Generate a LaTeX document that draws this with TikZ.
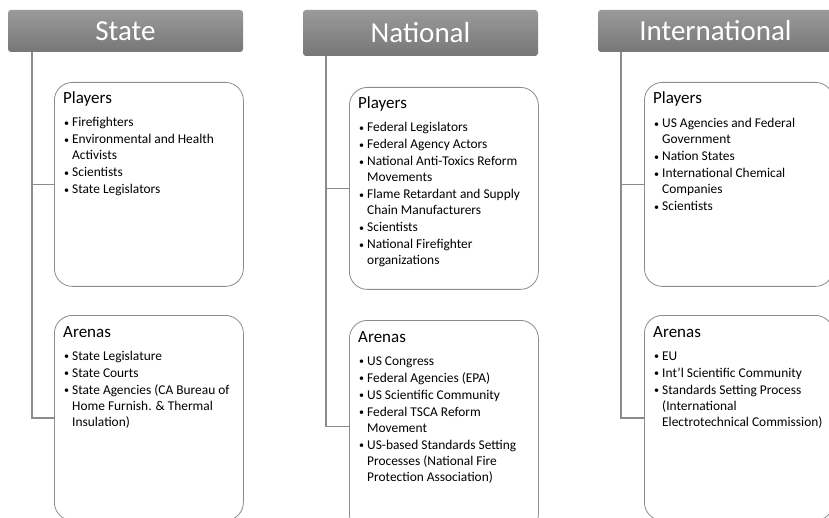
\documentclass[tikz,border=0pt]{standalone}
\usepackage{fontspec}
\setmainfont{Carlito}
\definecolor{hdrtop}{HTML}{9A9A9A}
\definecolor{hdrbot}{HTML}{777777}
\definecolor{boxline}{HTML}{8C8C8C}
\definecolor{connline}{HTML}{8C8C8C}
\newcommand{\bitem}[1]{\par\noindent\hangindent=8pt\hangafter=1\makebox[8pt][l]{\raisebox{0.6pt}{\fontsize{10}{10}\selectfont •}}#1}
\newcommand{\blist}[1]{\parbox[t]{200pt}{\raggedright\parskip=1pt #1}}
\begin{document}
\begin{tikzpicture}[x=1pt,y=-1pt,
  hdr/.style={rectangle, rounded corners=3pt, top color=hdrtop, bottom color=hdrbot, draw=none, text=white, font=\fontsize{29}{30}\selectfont, inner sep=0pt},
  panel/.style={rectangle, rounded corners=18pt, draw=boxline, line width=0.8pt, fill=white, minimum width=189pt, anchor=north west, inner sep=0pt},
  conn/.style={draw=connline, line width=1.3pt},
  ttl/.style={anchor=base west, inner sep=0pt, font=\fontsize{17}{19}\selectfont},
  lst/.style={anchor=base west, inner sep=0pt, font=\fontsize{13.4}{16}\selectfont},
]
\useasboundingbox (0,0) rectangle (829,518);

% ---------- State ----------
\node[hdr, minimum width=235pt, minimum height=42pt] (hs) at (125.5,31) {State};
\coordinate (xs) at (32,0);
\node[panel, minimum height=204pt] (sp) at (54,82) {};
\node[panel, minimum height=205pt] (sa) at (54,315) {};
\draw[conn] (hs.south -| xs) |- (sp.west);
\draw[conn] (hs.south -| xs) |- (sa.west);
\node[ttl] (spt) at (63,104) {Players};
\node[lst] (spl) at (64,127) {\blist{%
\bitem{Firefighters}
\bitem{Environmental and Health\newline Activists}
\bitem{Scientists}
\bitem{State Legislators}}};
\node[ttl] (sat) at (63,337) {Arenas};
\node[lst] (sal) at (64,360) {\blist{%
\bitem{State Legislature}
\bitem{State Courts}
\bitem{State Agencies (CA Bureau of\newline Home Furnish. \& Thermal\newline Insulation)}}};

% ---------- National ----------
\node[hdr, minimum width=235pt, minimum height=46pt] (hn) at (420.5,33) {National};
\coordinate (xn) at (326,0);
\node[panel, minimum height=202pt] (np) at (349,87) {};
\node[panel, minimum height=212pt] (na) at (349,320) {};
\draw[conn] (hn.south -| xn) |- (np.west);
\draw[conn] (hn.south -| xn) |- (na.west);
\node[ttl] (npt) at (358,109) {Players};
\node[lst] (npl) at (359,132) {\blist{%
\bitem{Federal Legislators}
\bitem{Federal Agency Actors}
\bitem{National Anti-Toxics Reform\newline Movements}
\bitem{Flame Retardant and Supply\newline Chain Manufacturers}
\bitem{Scientists}
\bitem{National Firefighter\newline organizations}}};
\node[ttl] (nat) at (358,342) {Arenas};
\node[lst] (nal) at (359,365) {\blist{%
\bitem{US Congress}
\bitem{Federal Agencies (EPA)}
\bitem{US Scientific Community}
\bitem{Federal TSCA Reform\newline Movement}
\bitem{US-based Standards Setting\newline Processes (National Fire\newline Protection Association)}}};

% ---------- International ----------
\node[hdr, minimum width=235pt, minimum height=42pt] (hi) at (715.5,31) {International};
\coordinate (xi) at (621,0);
\node[panel, minimum height=204pt] (ip) at (644,82) {};
\node[panel, minimum height=205pt] (ia) at (644,315) {};
\draw[conn] (hi.south -| xi) |- (ip.west);
\draw[conn] (hi.south -| xi) |- (ia.west);
\node[ttl] (ipt) at (653,104) {Players};
\node[lst] (ipl) at (654,128) {\blist{%
\bitem{US Agencies and Federal\newline Government}
\bitem{Nation States}
\bitem{International Chemical\newline Companies}
\bitem{Scientists}}};
\node[ttl] (iat) at (653,337) {Arenas};
\node[lst] (ial) at (654,360) {\blist{%
\bitem{EU}
\bitem{Int’l Scientific Community}
\bitem{Standards Setting Process\newline (International\newline Electrotechnical Commission)}}};
\end{tikzpicture}
\end{document}
